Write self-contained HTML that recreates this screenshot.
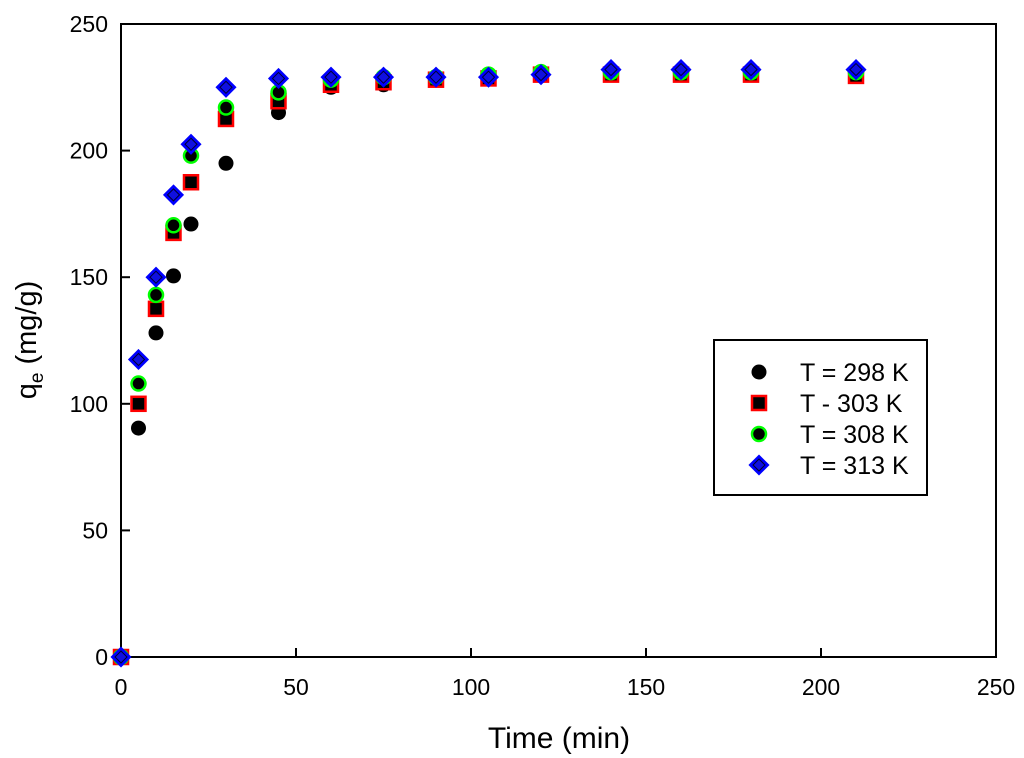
<!DOCTYPE html>
<html><head><meta charset="utf-8"><style>
body{margin:0;background:#fff}
svg{display:block;font-family:"Liberation Sans",Arial,sans-serif}
</style></head><body>
<svg id="chart" width="1024" height="758">
<rect x="121" y="24" width="875" height="633" fill="none" stroke="#000" stroke-width="2"/>
<g id="axes"></g>
<g id="marks"></g>
<text x="559" y="748" font-size="30" text-anchor="middle">Time (min)</text>
<text transform="translate(36,340) rotate(-90)" font-size="29" text-anchor="middle">q<tspan font-size="19" dy="7">e</tspan><tspan dy="-7"> (mg/g)</tspan></text>
<g>
<rect x="714" y="340" width="213" height="155" fill="#fff" stroke="#000" stroke-width="2"/>
<g id="legend"></g>
</g>
</svg>
<script>
const times=[0,5,10,15,20,30,45,60,75,90,105,120,140,160,180,210];
const q298=[0,90.4,128,150.5,171,195,215,225,226,228,229,230,230,230,230,230];
const q303=[0,100,137.5,167.5,187.5,212.5,219.5,226,227,228,228.5,230,230,230,230,229.5];
const q308=[0,108,143,170.5,198,217,223,228,229,229,230,231,231,231,231,231];
const q313=[0,117.5,150,182.5,202.5,225,228.5,229,229,229,229,230,232,232,232,232];
const xTicks=[0,50,100,150,200,250];
const yTicks=[0,50,100,150,200,250];
const labels=["T = 298 K","T - 303 K","T = 308 K","T = 313 K"];
const NS="http://www.w3.org/2000/svg";
const X=v=>121+v*875/250, Y=v=>657-v*633/250;
function mk(t,a,p){const e=document.createElementNS(NS,t);for(const k in a)e.setAttribute(k,a[k]);p.appendChild(e);return e;}
const axes=document.getElementById('axes');
xTicks.forEach(t=>{
 const l=mk('line',{x1:X(t),x2:X(t),y1:657,y2:648,stroke:'#000','stroke-width':2},axes);
 
 
 const tx=mk('text',{x:X(t),y:695,'font-size':23,'text-anchor':'middle'},axes);tx.textContent=t;
 
 
});
yTicks.forEach(t=>{
 const l=mk('line',{x1:121,x2:130,y1:Y(t),y2:Y(t),stroke:'#000','stroke-width':2},axes);
 
 
 const tx=mk('text',{x:108,y:Y(t)+8,'font-size':23,'text-anchor':'end'},axes);tx.textContent=t;
 
 
});
function marker(kind,cx,cy,p){
 if(kind===0)return mk('circle',{cx,cy,r:7.5,fill:'#000'},p);
 if(kind===1)return mk('rect',{x:cx-7,y:cy-7,width:14,height:14,fill:'#000',stroke:'#f00','stroke-width':2.5},p);
 if(kind===2)return mk('circle',{cx,cy,r:7,fill:'#000',stroke:'#0f0','stroke-width':2.5},p);
 const g=mk('g',{},p);
 mk('polygon',{points:`${cx},${cy-9.5} ${cx+9.5},${cy} ${cx},${cy+9.5} ${cx-9.5},${cy}`,fill:'#0000ff',stroke:'#0000ff','stroke-width':1.5},g);
 mk('polygon',{points:`${cx},${cy-6} ${cx+6},${cy} ${cx},${cy+6} ${cx-6},${cy}`,fill:'#1010e0',stroke:'#000030','stroke-width':1},g);
 return g;
}
const marks=document.getElementById('marks');
const series=[q298,q303,q308,q313];
const names=['series-298k','series-303k','series-308k','series-313k'];
series.forEach((s,k)=>{
 const g=mk('g',{},marks);
 
 
 s.forEach((v,i)=>{const m=marker(k,X(times[i]),Y(v),g);
  
  });
});
const lg=document.getElementById('legend');
labels.forEach((t,k)=>{
 const y=372+k*31;
 const g=mk('g',{},lg);
 
 
 marker(k,759,y,g);
 const tx=mk('text',{x:800,y:y+9,'font-size':25},g);tx.textContent=t;
});
</script>
</body></html>
